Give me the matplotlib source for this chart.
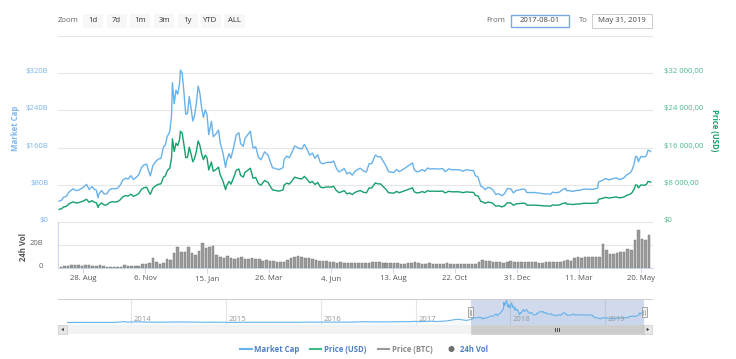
import matplotlib
matplotlib.use('Agg')
import matplotlib.pyplot as plt
from matplotlib.patches import Rectangle, Polygon, Circle
import pandas as pd

plt.rcParams['font.family'] = ['Open Sans', 'DejaVu Sans']

# ---------------- data ----------------
dates = [
    '2017-08-01', '2017-08-04', '2017-08-06', '2017-08-09', '2017-08-12', '2017-08-15', '2017-08-17',
    '2017-08-20', '2017-08-23', '2017-08-26', '2017-08-29', '2017-09-01', '2017-09-04', '2017-09-07',
    '2017-09-10', '2017-09-12', '2017-09-14', '2017-09-15', '2017-09-18', '2017-09-21', '2017-09-24',
    '2017-09-27', '2017-09-30', '2017-10-03', '2017-10-06', '2017-10-09', '2017-10-12', '2017-10-15',
    '2017-10-18', '2017-10-21', '2017-10-24', '2017-10-27', '2017-10-30', '2017-11-02', '2017-11-05',
    '2017-11-08', '2017-11-10', '2017-11-12', '2017-11-15', '2017-11-18', '2017-11-21', '2017-11-24',
    '2017-11-27', '2017-11-29', '2017-12-01', '2017-12-04', '2017-12-06', '2017-12-07', '2017-12-09',
    '2017-12-11', '2017-12-13', '2017-12-15', '2017-12-16', '2017-12-18', '2017-12-20', '2017-12-22',
    '2017-12-24', '2017-12-26', '2017-12-28', '2017-12-30',
    '2018-01-01', '2018-01-03', '2018-01-05', '2018-01-07', '2018-01-09', '2018-01-11', '2018-01-13',
    '2018-01-15', '2018-01-17', '2018-01-20', '2018-01-22', '2018-01-25', '2018-01-28', '2018-01-30',
    '2018-02-02', '2018-02-05', '2018-02-06', '2018-02-09', '2018-02-11', '2018-02-14', '2018-02-17',
    '2018-02-20', '2018-02-22', '2018-02-25', '2018-02-27', '2018-03-01', '2018-03-05', '2018-03-08',
    '2018-03-11', '2018-03-14', '2018-03-17', '2018-03-21', '2018-03-25', '2018-03-27', '2018-03-30',
    '2018-04-01', '2018-04-06', '2018-04-09', '2018-04-11', '2018-04-12', '2018-04-15', '2018-04-18',
    '2018-04-21', '2018-04-24', '2018-04-28', '2018-05-02', '2018-05-05', '2018-05-08', '2018-05-11',
    '2018-05-14', '2018-05-17', '2018-05-20', '2018-05-23', '2018-05-26', '2018-05-29', '2018-06-01',
    '2018-06-04', '2018-06-07', '2018-06-10', '2018-06-13', '2018-06-16', '2018-06-19', '2018-06-22',
    '2018-06-25', '2018-06-28', '2018-07-01', '2018-07-04', '2018-07-07', '2018-07-11', '2018-07-14',
    '2018-07-17', '2018-07-20', '2018-07-24', '2018-07-27', '2018-07-30', '2018-08-02', '2018-08-05',
    '2018-08-08', '2018-08-11', '2018-08-14', '2018-08-17', '2018-08-20', '2018-08-23', '2018-08-26',
    '2018-08-30', '2018-09-04', '2018-09-06', '2018-09-09', '2018-09-12', '2018-09-15', '2018-09-18',
    '2018-09-21', '2018-09-24', '2018-09-27', '2018-09-30', '2018-10-04', '2018-10-08', '2018-10-11',
    '2018-10-15', '2018-10-19', '2018-10-23', '2018-10-27', '2018-10-31', '2018-11-04', '2018-11-08',
    '2018-11-12', '2018-11-14', '2018-11-17', '2018-11-19', '2018-11-20', '2018-11-23', '2018-11-25',
    '2018-11-28', '2018-12-01', '2018-12-04', '2018-12-07', '2018-12-10', '2018-12-14', '2018-12-17',
    '2018-12-20', '2018-12-24', '2018-12-27', '2018-12-30',
    '2019-01-02', '2019-01-06', '2019-01-09', '2019-01-11', '2019-01-15', '2019-01-19', '2019-01-23',
    '2019-01-27', '2019-01-31', '2019-02-04', '2019-02-07', '2019-02-09', '2019-02-13', '2019-02-17',
    '2019-02-20', '2019-02-24', '2019-02-25', '2019-02-28', '2019-03-04', '2019-03-08', '2019-03-12',
    '2019-03-16', '2019-03-20', '2019-03-24', '2019-03-28', '2019-04-01', '2019-04-02', '2019-04-06',
    '2019-04-10', '2019-04-14', '2019-04-18', '2019-04-22', '2019-04-25', '2019-04-28', '2019-05-01',
    '2019-05-04', '2019-05-08', '2019-05-10', '2019-05-12', '2019-05-14', '2019-05-16', '2019-05-17',
    '2019-05-20', '2019-05-23', '2019-05-26', '2019-05-28', '2019-05-30', '2019-05-31',
]

price_usd = [
    2720, 2860, 3230, 3340, 3880, 4180, 4330, 4090, 4150, 4350, 4580, 4890, 4230, 4600,
    4230, 4160, 3150, 3640, 4090, 3630, 3680, 4200, 4340, 4310, 4370, 4770, 5430, 5680,
    5570, 6000, 5520, 5770, 6130, 7020, 7390, 7460, 6620, 5950, 7310, 7780, 8110, 8200,
    9700, 9890, 10980, 11600, 13750, 17900, 15180, 16940, 16410, 17710, 19500, 19110, 16620, 13830,
    13930, 16100, 14610, 12950,
    13660, 15200, 17430, 16480, 14600, 13400, 14360, 13820, 11190, 12900, 10930, 11260, 11790, 10110,
    8830, 6960, 7750, 8740, 8130, 9490, 11110, 11400, 10000, 9660, 10730, 10950, 11570, 9400,
    9580, 8270, 7920, 8930, 8500, 7830, 6890, 6840, 6640, 6780, 6930, 7920, 8360, 8160,
    8850, 9650, 9390, 9240, 9820, 9190, 8450, 8720, 8060, 8520, 7510, 7360, 7500, 7540,
    7500, 7690, 6790, 6310, 6500, 6740, 6050, 6250, 5900, 6350, 6600, 6760, 6380, 6280,
    7320, 7330, 8400, 8200, 8200, 7600, 7040, 6300, 6240, 6200, 6580, 6300, 6500, 6700,
    7000, 7360, 6500, 6250, 6340, 6540, 6330, 6730, 6600, 6640, 6620, 6590, 6650, 6260,
    6600, 6480, 6500, 6480, 6320, 6480, 6400, 6370, 5740, 5580, 4870, 4450, 4270, 4010,
    4280, 4210, 3960, 3400, 3500, 3250, 3500, 4130, 4100, 3590, 3900,
    3940, 4040, 4030, 3630, 3620, 3640, 3590, 3530, 3460, 3450, 3400, 3660, 3600, 3670,
    3950, 4140, 3850, 3850, 3750, 3860, 3880, 4020, 4030, 3990, 4030, 4140, 4880, 5060,
    5300, 5150, 5280, 5400, 5200, 5250, 5400, 5750, 6000, 6350, 6970, 7990, 7880, 7340,
    7980, 7880, 8050, 8720, 8660, 8550,
]

market_cap_b = [
    44.8, 47.1, 53.2, 55.0, 64.0, 68.9, 71.4, 67.4, 68.4, 71.7, 75.5, 80.9, 70.0, 76.1,
    70.0, 68.9, 52.1, 60.3, 67.7, 60.1, 60.9, 69.5, 71.9, 71.5, 72.5, 79.2, 90.1, 94.3,
    92.5, 99.6, 91.6, 95.8, 101.8, 117.0, 123.1, 124.3, 110.3, 99.1, 121.8, 129.7, 135.2, 136.8,
    161.9, 165.1, 183.6, 194.0, 230.0, 299.6, 254.1, 283.6, 274.8, 296.6, 326.6, 320.1, 278.4, 231.7,
    233.4, 269.8, 244.9, 217.1,
    229.2, 255.1, 292.5, 276.5, 245.0, 224.9, 241.0, 231.9, 187.8, 216.5, 183.4, 189.0, 197.8, 169.7,
    148.7, 117.2, 130.5, 147.2, 136.9, 159.8, 187.1, 192.0, 168.4, 162.7, 180.7, 184.9, 195.4, 158.8,
    161.8, 139.7, 133.8, 150.8, 143.6, 132.2, 116.4, 115.9, 112.5, 114.9, 117.5, 134.2, 141.7, 138.3,
    150.0, 163.6, 159.2, 157.1, 166.9, 156.2, 143.7, 148.2, 137.0, 144.8, 127.7, 125.1, 127.5, 128.7,
    128.0, 131.3, 115.9, 107.7, 111.0, 115.1, 103.3, 106.7, 100.7, 108.7, 113.0, 115.7, 109.2, 107.5,
    125.3, 125.5, 143.8, 140.4, 140.4, 130.6, 120.9, 108.2, 107.2, 106.5, 113.0, 108.2, 111.7, 115.1,
    120.3, 127.0, 112.1, 107.8, 109.4, 112.8, 109.2, 116.1, 113.9, 114.5, 114.2, 114.0, 115.0, 108.3,
    114.2, 112.1, 112.5, 112.1, 109.3, 112.5, 111.1, 110.6, 99.6, 96.9, 84.5, 77.3, 74.1, 69.6,
    74.3, 73.3, 68.9, 59.2, 60.9, 56.6, 61.0, 71.9, 71.4, 62.5, 67.9,
    68.8, 70.5, 70.4, 63.4, 63.2, 63.6, 62.7, 61.6, 60.4, 60.4, 59.5, 64.1, 63.0, 64.3,
    69.2, 72.5, 67.4, 67.4, 65.9, 67.8, 68.1, 70.6, 70.8, 70.1, 70.8, 72.9, 85.9, 89.1,
    93.3, 90.7, 93.0, 95.1, 91.6, 92.5, 95.4, 101.6, 106.0, 112.2, 123.2, 141.2, 139.2, 129.7,
    141.2, 139.5, 142.5, 154.3, 153.3, 151.3,
]

# 24h volume (billions USD), one value per 4-day period starting 2017-08-01
volume_b = [
    1.2, 1.4, 2.0, 2.6, 2.8, 2.2, 1.8, 2.4, 2.6, 1.8, 1.6, 2.7, 1.6, 1.2, 1.3, 1.2, 1.1, 1.3,
    2.4, 1.9, 2.0, 1.8, 1.9, 3.2, 3.5, 4.5, 8.6, 4.8, 3.8, 4.5, 7.5, 7.0, 13.0, 18.0, 13.5, 14.0,
    18.5, 13.0, 11.0, 15.0, 22.0, 17.0, 18.0, 19.5, 11.0, 9.5, 9.0, 10.5, 8.5, 7.5, 9.0, 9.5,
    8.0, 7.5, 8.5, 8.0, 7.5, 6.5, 7.0, 6.0, 6.0, 5.5, 5.0, 5.5, 7.0, 8.5, 9.5, 10.5, 9.5, 9.0,
    8.5, 7.5, 7.0, 6.5, 6.0, 6.5, 5.5, 5.0, 4.6, 5.5, 4.5, 4.5, 4.2, 4.5, 4.5, 4.0, 4.2, 4.0,
    5.5, 5.0, 5.5, 4.5, 4.2, 4.5, 4.0, 4.5, 3.8, 3.5, 4.0, 4.2, 4.8, 4.0, 3.8, 3.6, 4.2, 3.8,
    3.6, 3.4, 3.2, 4.0, 3.6, 3.4, 3.3, 3.2, 3.4, 3.6, 3.8, 3.6, 5.5, 6.8, 5.8, 6.0, 5.2, 5.0,
    4.8, 4.6, 5.5, 6.5, 5.5, 5.0, 5.0, 5.2, 5.5, 5.0, 4.8, 4.7, 4.6, 4.8, 4.8, 5.2, 4.8, 5.0,
    6.5, 7.2, 6.5, 8.5, 9.5, 9.0, 9.5, 9.8, 9.2, 9.5, 10.0, 20.5, 16.0, 12.5, 12.0, 13.0, 14.0,
    13.5, 16.5, 16.0, 24.0, 33.0, 25.0, 24.0, 29.0,
]

# navigator history before the selected range (market cap, billions USD)
nav_dates = [
    '2013-04-28', '2013-06-01', '2013-07-05', '2013-08-01', '2013-09-01', '2013-10-01', '2013-11-01',
    '2013-11-18', '2013-12-04', '2013-12-18', '2014-01-01', '2014-02-01', '2014-03-01', '2014-04-10',
    '2014-05-01', '2014-06-03', '2014-07-01', '2014-08-01', '2014-09-01', '2014-10-05', '2014-11-01',
    '2014-12-01', '2015-01-14', '2015-02-01', '2015-03-01', '2015-04-01', '2015-05-01', '2015-06-01',
    '2015-07-10', '2015-08-01', '2015-09-01', '2015-10-01', '2015-11-04', '2015-12-01', '2016-01-01',
    '2016-02-01', '2016-03-01', '2016-04-01', '2016-05-01', '2016-06-17', '2016-07-01', '2016-08-01',
    '2016-09-01', '2016-10-01', '2016-11-01', '2016-12-01', '2017-01-04', '2017-01-12', '2017-02-01',
    '2017-03-01', '2017-03-24', '2017-04-01', '2017-05-01', '2017-05-25', '2017-06-12', '2017-07-01',
    '2017-07-16',
]
nav_market_cap_b = [
    1.5, 1.4, 0.8, 1.1, 1.6, 1.6, 2.5, 8.0, 13.8, 6.0, 9.3, 10.0, 7.0, 4.5,
    5.5, 8.2, 8.2, 7.7, 6.3, 4.3, 4.5, 5.2, 2.4, 3.1, 3.6, 3.5, 3.3, 3.2,
    4.1, 4.2, 3.4, 3.5, 6.5, 5.3, 6.5, 5.8, 6.8, 6.4, 7.0, 12.0, 10.7, 9.5,
    9.5, 9.8, 11.7, 12.4, 18.4, 12.9, 15.6, 19.5, 15.0, 17.6, 23.4, 39.0, 48.5, 40.0,
    31.0,
]

mcap_ticks = [0, 80, 160, 240, 320, 400]
mcap_labels = ['$0', '$80B', '$160B', '$240B', '$320B', '']
price_ticks = [0, 8000, 16000, 24000, 32000]
price_labels = ['$0', '$8 000,00', '$16 000,00', '$24 000,00', '$32 000,00']
vol_ticks = [0, 20, 40]
vol_labels = ['0', '20B', '']
x_tick_dates = ['2017-08-28', '2017-11-06', '2018-01-15', '2018-03-26', '2018-06-04',
                '2018-08-13', '2018-10-22', '2018-12-31', '2019-03-11', '2019-05-20']
x_tick_labels = ['28. Aug', '6. Nov', '15. Jan', '26. Mar', '4. Jun',
                 '13. Aug', '22. Oct', '31. Dec', '11. Mar', '20. May']
nav_years = ['2014', '2015', '2016', '2017', '2018', '2019']
zoom_buttons = ['1d', '7d', '1m', '3m', '1y', 'YTD', 'ALL']
legend_items = ['Market Cap', 'Price (USD)', 'Price (BTC)', '24h Vol']

# ---------------- styling ----------------
MCAP_C = '#68b2ea'
PRICE_C = '#16a06b'
LEFT_LBL_C = '#7cb5ec'
RIGHT_LBL_C = '#4cba8c'
GRID_C = '#e6e6e6'
AXIS_C = '#ccd6eb'
FS = 5.6

W, H = 736, 359
fig = plt.figure(figsize=(W / 100, H / 100), dpi=100)


def ax_px(x0, y0, x1, y1, **kw):
    return fig.add_axes([x0 / W, 1 - y1 / H, (x1 - x0) / W, (y1 - y0) / H], **kw)


x = pd.to_datetime(dates)
x0 = pd.Timestamp('2017-08-01') - pd.Timedelta(days=1.2)
x1 = pd.Timestamp('2019-05-31') + pd.Timedelta(days=2.0)

# ---- main panel ----
ax = ax_px(58, 36, 652.5, 222)
ax.set_xlim(x0, x1)
ax.set_ylim(0, 400)
ax.plot(x, market_cap_b, color=MCAP_C, lw=1.0, zorder=3)
ax.set_yticks(mcap_ticks)
ax.set_yticklabels(mcap_labels, va='baseline')
ax.tick_params(axis='y', length=0, pad=7, labelsize=FS, labelcolor=LEFT_LBL_C)
ax.tick_params(axis='x', bottom=False, labelbottom=False)
ax.grid(axis='y', color=GRID_C, lw=0.8)
ax.set_axisbelow(True)
for s in ax.spines.values():
    s.set_visible(False)

ax2 = ax.twinx()
ax2.set_ylim(0, 40000)
ax2.plot(x, price_usd, color=PRICE_C, lw=1.0, zorder=3)
ax2.set_yticks(price_ticks)
ax2.set_yticklabels(price_labels, va='baseline')
ax2.tick_params(axis='y', length=0, pad=8, labelsize=FS, labelcolor=RIGHT_LBL_C)
for s in ax2.spines.values():
    s.set_visible(False)

fig.text(16 / W, 1 - 128 / H, 'Market Cap', rotation=90, ha='center', va='center',
         fontsize=FS, fontweight='bold', color=LEFT_LBL_C)
fig.text(714 / W, 1 - 130 / H, 'Price (USD)', rotation=270, ha='center', va='center',
         fontsize=FS, fontweight='bold', color=PRICE_C)

# ---- volume panel ----
axv = ax_px(58, 222, 652.5, 268)
vx = pd.date_range('2017-08-01', periods=len(volume_b), freq='4D') + pd.Timedelta(days=2)
axv.bar(vx, volume_b, width=2.9, color='#9c9c9c', edgecolor='#737373', linewidth=0.3, zorder=3)
axv.set_xlim(x0, x1)
axv.set_ylim(0, 40)
axv.set_yticks(vol_ticks)
axv.set_yticklabels(vol_labels, va='baseline')
axv.tick_params(axis='y', length=0, pad=10.5, labelsize=FS, labelcolor='#666666')
axv.grid(axis='y', color=GRID_C, lw=0.8)
axv.set_axisbelow(True)
axv.set_xticks(pd.to_datetime(x_tick_dates))
axv.set_xticklabels(x_tick_labels)
axv.tick_params(axis='x', length=3.5, width=0.7, color=AXIS_C, direction='out', pad=1.5,
                labelsize=FS, labelcolor='#555555')
for k, s in axv.spines.items():
    if k in ('left', 'bottom'):
        s.set_color(AXIS_C)
        s.set_linewidth(0.8)
    else:
        s.set_visible(False)
fig.text(23 / W, 1 - 247 / H, '24h Vol', rotation=90, ha='center', va='center',
         fontsize=FS, fontweight='bold', color='#555555')

# ---- navigator ----
axn = ax_px(67, 299, 644, 325)
nx = pd.to_datetime(nav_dates + dates)
ny = nav_market_cap_b + market_cap_b
axn.fill_between(nx, ny, -37, color=MCAP_C, alpha=0.06, lw=0)
axn.plot(nx, ny, color=MCAP_C, lw=0.8, zorder=3)
axn.set_xlim(pd.Timestamp('2013-04-28'), pd.Timestamp('2019-05-31'))
axn.set_ylim(-37, 350)
axn.axvspan(pd.Timestamp('2017-08-01'), pd.Timestamp('2019-05-31'),
            color=(102 / 255, 133 / 255, 194 / 255, 0.3), lw=0, zorder=1)
yr = pd.to_datetime([y + '-01-01' for y in nav_years])
axn.set_xticks(yr)
axn.tick_params(axis='both', length=0, labelbottom=False, labelleft=False)
axn.set_yticks([])
axn.grid(axis='x', color=GRID_C, lw=0.8)
axn.set_axisbelow(True)
for s in axn.spines.values():
    s.set_visible(False)
for d, lab in zip(yr, nav_years):
    axn.text(d + pd.Timedelta(days=10), 0.2, lab, transform=axn.get_xaxis_transform(),
             ha='left', va='center', fontsize=FS, color='#999999', zorder=4)

# ---------------- overlay (UI chrome) ----------------
ov = fig.add_axes([0, 0, 1, 1], zorder=10)
ov.set_xlim(0, W)
ov.set_ylim(H, 0)
ov.axis('off')

# zoom buttons
ov.text(58, 21, 'Zoom', ha='left', va='center', fontsize=FS, color='#666666')
btn_x = [83, 106.5, 130, 154, 177.5, 200.5, 224]
btn_w = [20, 20, 20, 20, 20, 20, 21]
for bx, bw, lab in zip(btn_x, btn_w, zoom_buttons):
    ov.add_patch(Rectangle((bx, 14), bw, 14, fc='#f7f7f7', ec='none'))
    ov.text(bx + bw / 2, 21, lab, ha='center', va='center', fontsize=FS, color='#333333')

# date range inputs
ov.text(496, 21, 'From', ha='center', va='center', fontsize=FS, color='#666666')
ov.add_patch(Rectangle((511, 14.5), 58, 12, fc='white', ec='#7aa7e6', lw=1.0))
ov.text(540, 20.3, '2017-08-01', ha='center', va='center', fontsize=FS, color='#444444')
ov.text(583, 21, 'To', ha='center', va='center', fontsize=FS, color='#666666')
ov.add_patch(Rectangle((592, 14), 60, 14, fc='white', ec='#cccccc', lw=0.7))
ov.text(622, 21, 'May 31, 2019', ha='center', va='center', fontsize=FS, color='#444444')

# navigator outline
ov.plot([58, 652], [299, 299], color='#cccccc', lw=0.7)

# scrollbar
ov.add_patch(Rectangle((58, 325), 594, 9, fc='#f2f2f2', ec='none'))
ov.add_patch(Rectangle((58, 325), 9, 9, fc='#e6e6e6', ec='#cccccc', lw=0.5))
ov.add_patch(Rectangle((643.5, 325), 8.5, 9, fc='#e6e6e6', ec='#cccccc', lw=0.5))
ov.add_patch(Polygon([[61.3, 329.5], [63.8, 327.8], [63.8, 331.2]], closed=True, fc='#333333', ec='none'))
ov.add_patch(Polygon([[649.2, 329.5], [646.7, 327.8], [646.7, 331.2]], closed=True, fc='#333333', ec='none'))
ov.add_patch(Rectangle((470.5, 325.3), 173, 8.4, fc='#cccccc', ec='#cccccc', lw=0.5))
for gx in (555, 557, 559):
    ov.plot([gx, gx], [327.8, 331.2], color='#333333', lw=0.6)

# navigator handles
for hx in (470.6, 644):
    ov.add_patch(Rectangle((hx - 2.5, 307), 5, 10.3, fc='#f2f2f2', ec='#999999', lw=0.6))
    for dx in (-0.8, 0.8):
        ov.plot([hx + dx, hx + dx], [309.5, 314.8], color='#999999', lw=0.5)

# legend
LY = 349
ov.plot([240, 252], [LY, LY], color=MCAP_C, lw=1.5)
ov.text(254.5, LY, legend_items[0], ha='left', va='center', fontsize=FS, fontweight='bold', color='#4f80c6')
ov.plot([310, 321], [LY, LY], color='#3dbb84', lw=1.5)
ov.text(324, LY, legend_items[1], ha='left', va='center', fontsize=FS, fontweight='bold', color='#4f80c6')
ov.plot([378, 389], [LY, LY], color='#999999', lw=1.5)
ov.text(392, LY, legend_items[2], ha='left', va='center', fontsize=FS, fontweight='bold', color='#8a8a8a')
ov.add_patch(Circle((451.5, LY), 3.0, fc='#6f6f6f', ec='none'))
ov.text(459.5, LY, legend_items[3], ha='left', va='center', fontsize=FS, fontweight='bold', color='#4f80c6')

fig.savefig('out.png', dpi=100)
